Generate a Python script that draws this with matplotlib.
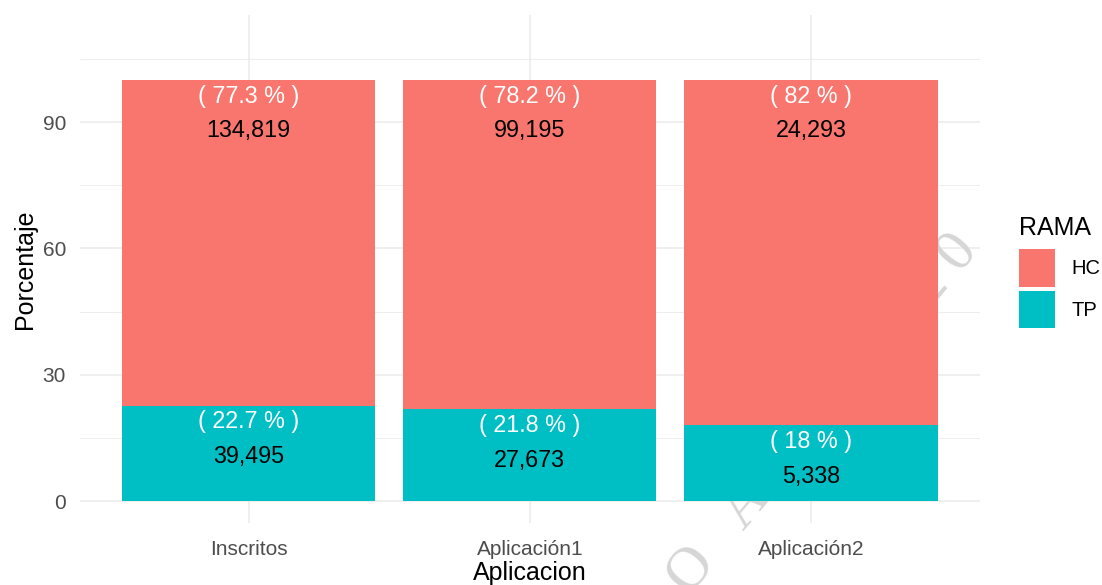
import matplotlib

matplotlib.use("Agg")
import matplotlib.pyplot as plt
from matplotlib.patches import Patch

categories = ["Inscritos", "Aplicación1", "Aplicación2"]
series_names = ["HC", "TP"]
hc_counts = [134819, 99195, 24293]
tp_counts = [39495, 27673, 5338]
hc_pct = [77.3, 78.2, 82]
tp_pct = [22.7, 21.8, 18]
y_ticks = [0, 30, 60, 90]
y_minor = [15, 45, 75, 105]

HC_COLOR = "#F8766D"
TP_COLOR = "#00BFC4"
GRID_COLOR = "#EBEBEB"
TICK_COLOR = "#4D4D4D"

plt.rcParams["font.family"] = ["Liberation Sans", "DejaVu Sans"]

fig = plt.figure(figsize=(11.02, 5.85), dpi=100)
ax = fig.add_axes([0.0726, 0.106, 0.889 - 0.0726, 0.974 - 0.106])

x = list(range(1, len(categories) + 1))
ax.set_xlim(0.4, 3.6)
ax.set_ylim(-5.2, 115.4)

for yv in y_ticks:
    ax.axhline(yv, color=GRID_COLOR, lw=1.1, zorder=0.5)
for yv in y_minor:
    ax.axhline(yv, color=GRID_COLOR, lw=0.6, zorder=0.5)
for xv in x:
    ax.axvline(xv, color=GRID_COLOR, lw=1.1, zorder=0.5)

# watermark behind the bars (runs off the bottom of the figure, like the original)
ax.text(3.557, 61.6, "P E R I O D O   A Ñ O   2 0 2 0", rotation=50,
        rotation_mode="anchor", ha="right", va="center", fontsize=43,
        family="Liberation Serif", color="#d6d6d6", zorder=1, clip_on=False)

ax.bar(x, tp_pct, width=0.9, color=TP_COLOR, zorder=2)
ax.bar(x, hc_pct, bottom=tp_pct, width=0.9, color=HC_COLOR, zorder=2)

for xi, tp, hc, ntp, nhc in zip(x, tp_pct, hc_pct, tp_counts, hc_counts):
    for top, pct, n in [(tp, tp, ntp), (tp + hc, hc, nhc)]:
        ax.text(xi, top - 3.9, f"( {pct:g} % )", ha="center", va="center",
                color="white", fontsize=16.8, zorder=3)
        ax.text(xi, top - 12.1, f"{n:,}", ha="center", va="center",
                color="black", fontsize=16.8, zorder=3)

ax.set_xticks(x)
ax.set_xticklabels(categories)
ax.set_yticks(y_ticks)
ax.tick_params(length=0, labelsize=15, labelcolor=TICK_COLOR)
ax.tick_params(axis="x", pad=12)
ax.tick_params(axis="y", pad=10)
for spine in ax.spines.values():
    spine.set_visible(False)

ax.set_xlabel("Aplicacion", fontsize=18, labelpad=2)
ax.set_ylabel("Porcentaje", fontsize=18, labelpad=4)

fig.text(1019 / 1102, 1 - 235 / 585, "RAMA", fontsize=18, ha="left", va="baseline")
handles = [Patch(facecolor=HC_COLOR, edgecolor="none"),
           Patch(facecolor=TP_COLOR, edgecolor="none")]
leg = fig.legend(handles, series_names, loc="upper left",
                 bbox_to_anchor=(1019 / 1102, 1 - 249 / 585),
                 frameon=False, fontsize=14.5,
                 handlelength=1.8, handleheight=2.5, labelspacing=0.2,
                 handletextpad=0.8, borderpad=0, borderaxespad=0)

fig.savefig("out.png", dpi=100)
plt.close(fig)
